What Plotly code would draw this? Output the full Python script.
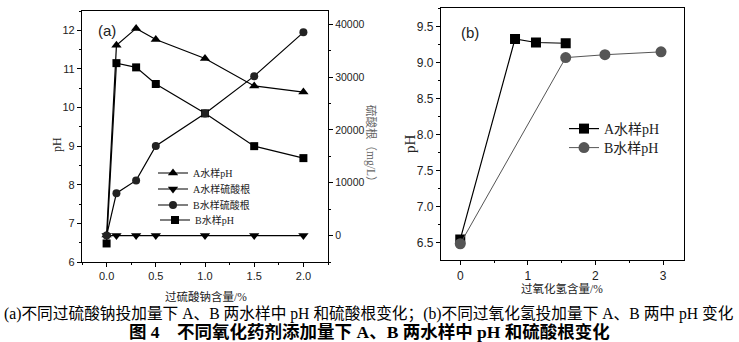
import plotly.graph_objects as go

W, H = 739, 342

# ---------- data: panel (a) ----------
persulfate = [0, 0.1, 0.3, 0.5, 1.0, 1.5, 2.0]
a_ph = [6.7, 11.61, 12.05, 11.76, 11.27, 10.56, 10.40]
a_sulfate = [0, 0, 0, 0, 0, 0, 0]
b_sulfate = [0, 8030, 10440, 16950, 23090, 30170, 38460]
b_ph = [6.48, 11.15, 11.04, 10.61, 9.85, 9.00, 8.69]

# ---------- data: panel (b) ----------
h2o2_a = [0, 0.81, 1.12, 1.56]
b_panel_a_ph = [6.54, 9.33, 9.28, 9.27]
h2o2_b = [0, 1.56, 2.14, 2.97]
b_panel_b_ph = [6.48, 9.07, 9.11, 9.15]

LEG_A = ["A水样pH", "A水样硫酸根", "B水样硫酸根", "B水样pH"]
LEG_B = ["A水样pH", "B水样pH"]

SERIF = "Liberation Serif, Noto Sans CJK SC, serif"
SANS = "Liberation Sans, Arial, sans-serif"

def px(x):
    return x / W

def py(y):
    return 1 - y / H

fig = go.Figure()

line_a = dict(color="black", width=1.2)
fig.add_trace(go.Scatter(x=persulfate, y=a_ph, name=LEG_A[0], mode="lines+markers",
                         line=line_a, marker=dict(symbol="triangle-up", size=9, color="black"),
                         xaxis="x", yaxis="y", legend="legend"))
fig.add_trace(go.Scatter(x=persulfate, y=a_sulfate, name=LEG_A[1], mode="lines+markers",
                         line=line_a, marker=dict(symbol="triangle-down", size=9, color="black"),
                         xaxis="x", yaxis="y2", legend="legend3"))
fig.add_trace(go.Scatter(x=persulfate, y=b_sulfate, name=LEG_A[2], mode="lines+markers",
                         line=line_a, marker=dict(symbol="circle", size=8, color="#222"),
                         xaxis="x", yaxis="y2", legend="legend4"))
fig.add_trace(go.Scatter(x=persulfate, y=b_ph, name=LEG_A[3], mode="lines+markers",
                         line=line_a, marker=dict(symbol="square", size=8, color="black"),
                         xaxis="x", yaxis="y", legend="legend5"))

fig.add_trace(go.Scatter(x=h2o2_a, y=b_panel_a_ph, name=LEG_B[0], mode="lines+markers",
                         line=dict(color="black", width=1.2),
                         marker=dict(symbol="square", size=10, color="black"),
                         xaxis="x2", yaxis="y3", legend="legend2"))
fig.add_trace(go.Scatter(x=h2o2_b, y=b_panel_b_ph, name=LEG_B[1], mode="lines+markers",
                         line=dict(color="#555", width=1),
                         marker=dict(symbol="circle", size=11, color="#555"),
                         xaxis="x2", yaxis="y3", legend="legend6"))

axis_common = dict(showline=True, linecolor="black", linewidth=1.2, showgrid=False,
                   zeroline=False, ticks="outside", ticklen=4, tickcolor="black",
                   tickwidth=1)

def leg(x, y, size):
    return dict(x=px(x), y=py(y), xanchor="left", yanchor="middle",
                bgcolor="rgba(0,0,0,0)", font=dict(family=SERIF, size=size, color="#222"),
                itemwidth=30)

fig.update_layout(
    width=W, height=H,
    margin=dict(l=0, r=0, t=0, b=0, autoexpand=False),
    paper_bgcolor="white", plot_bgcolor="white",
    xaxis=dict(domain=[px(82), px(328)], range=[-0.25, 2.25], dtick=0.5, tick0=0,
               tickformat=".1f", anchor="y", mirror=True,
               minor=dict(dtick=0.25, ticklen=2, tickcolor="black", ticks="outside"),
               tickfont=dict(family=SANS, size=11, color="#222"), **axis_common),
    yaxis=dict(domain=[py(262), py(11)], range=[6, 12.5], dtick=1, anchor="x",
               minor=dict(dtick=0.5, ticklen=2, tickcolor="black", ticks="outside"),
               tickfont=dict(family=SANS, size=11, color="#222"), **axis_common),
    yaxis2=dict(overlaying="y", side="right", anchor="x", range=[-5000, 42500],
                dtick=10000, tick0=0, tickformat="d",
                minor=dict(dtick=5000, ticklen=2, tickcolor="black", ticks="outside"),
                tickfont=dict(family=SANS, size=10.5, color="#222"), **axis_common),
    xaxis2=dict(domain=[px(441), px(684)], range=[-0.285, 3.31], dtick=1, tick0=0,
                anchor="y3", mirror=True,
                minor=dict(dtick=0.5, ticklen=2, tickcolor="black", ticks="outside"),
                tickfont=dict(family=SANS, size=12, color="#222"), **axis_common),
    yaxis3=dict(domain=[py(260), py(8.3)], range=[6.254, 9.756], dtick=0.5, tick0=6.5,
                tickformat=".1f", anchor="x2", mirror=True,
                minor=dict(dtick=0.25, ticklen=2, tickcolor="black", ticks="outside"),
                tickfont=dict(family=SANS, size=12, color="#222"), **axis_common),
    legend=leg(153, 173, 10),
    legend3=leg(153, 189, 10),
    legend4=leg(153, 205, 10),
    legend5=leg(155, 220, 10),
    legend2=leg(564, 129, 14),
    legend6=leg(564, 148, 14),
    showlegend=True,
)

ann = []
def add(text, x, y, size, family=SERIF, color="#222", angle=0, xanchor="center", bold=False):
    if bold:
        text = "<b>" + text + "</b>"
    ann.append(dict(text=text, x=px(x), y=py(y), xref="paper", yref="paper",
                    showarrow=False, xanchor=xanchor, yanchor="middle", textangle=angle,
                    font=dict(family=family, size=size, color=color)))

add("(a)", 96, 30, 15, family=SANS, xanchor="left")
add("(b)", 459, 32, 15, family=SANS, xanchor="left")
add("pH", 57, 145, 12, angle=-90)
add("硫酸根（mg/L）", 371, 146, 11.5, angle=90, color="#666")
add("pH", 410, 144, 15, angle=-90)
add("过硫酸钠含量/%", 206, 296, 11.5)
add("过氧化氢含量/%", 562, 288, 11.5)
add("(a)不同过硫酸钠投加量下 A、B 两水样中 pH 和硫酸根变化；(b)不同过氧化氢投加量下 A、B 两中 pH 变化",
    369, 314, 15.7, color="black")
add("图 4　不同氧化药剂添加量下 A、B 两水样中 pH 和硫酸根变化", 369, 332, 17.5,
    color="black", bold=True)

fig.update_layout(annotations=ann)

fig.write_html("out.html")
